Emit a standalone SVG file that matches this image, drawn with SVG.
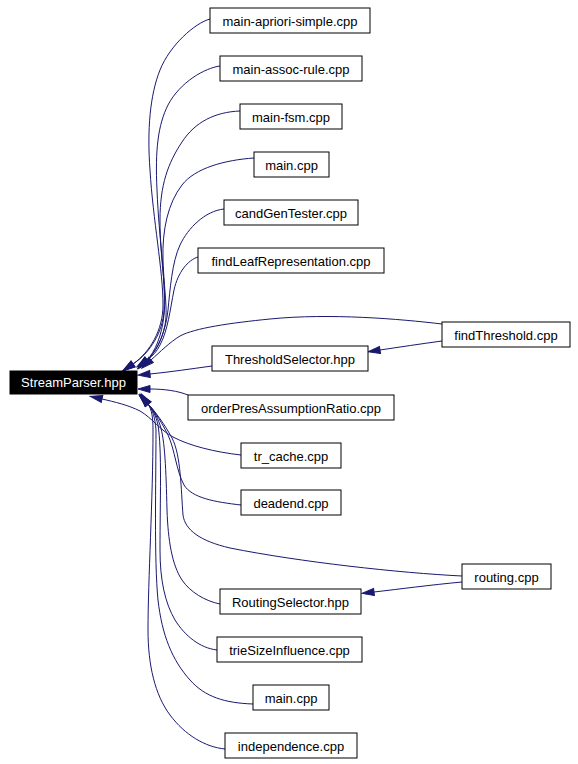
<svg xmlns="http://www.w3.org/2000/svg" width="578" height="764" viewBox="0 0 578 764">
<style>
.n rect{fill:#fff;stroke:#000;stroke-width:1}
.n text{font-family:"Liberation Sans",Arial,sans-serif;font-size:13px;fill:#000;text-anchor:middle}
#root rect{fill:#000;stroke:#000}
#root text{fill:#fff}
.e path{fill:none;stroke:#191970;stroke-width:1;marker-end:url(#ah)}
</style>
<defs>
<marker id="ah" markerUnits="userSpaceOnUse" markerWidth="13" markerHeight="8" refX="0" refY="4" orient="auto" overflow="visible">
<path d="M0,0.5 L12,4 L0,7.5 z" fill="#191970" stroke="#191970" stroke-width="1"/>
</marker>
</defs>
<rect width="578" height="764" fill="#fff"/>
<g class="e" id="edges">
<path d="M210,19 C195,23 170,45 160,70 C150,95 147,130 150,170 C153,220 163,270 163,305 C163,330 150,352 133,364"/>
<path d="M220,66 C205,68 180,82 168,105 C158,125 155,150 157,190 C159,240 166,280 164,310 C163,332 150,353 133,364"/>
<path d="M240,111 C215,112 195,122 182,142 C168,163 160,185 160,220 C160,260 167,290 164,315 C162,335 155,352 147,360"/>
<path d="M254,158 C225,160 195,168 182,185 C168,203 162,230 163,260 C164,290 168,310 165,325 C162,340 156,352 147,360"/>
<path d="M224,209 C205,211 188,228 180,245 C172,262 170,290 168,310 C166,330 158,350 147,360"/>
<path d="M198,257 C188,260 178,272 174,290 C170,310 168,330 160,345 C157,351 153,356 147,360"/>
<path d="M442,324 C400,319 330,313 270,319 C230,323 195,328 180,336 C170,342 160,352 151,360"/>
<path d="M442,341 C420,344 400,347 380,350"/>
<path d="M212,366 C190,369 170,372 150,374"/>
<path d="M188,395 C178,391 165,389 150,389"/>
<path d="M241,455 C215,452 190,446 173,437 C160,430 152,418 140,411 C128,405 115,402 102,399"/>
<path d="M241,505 C215,502 192,498 184,485 C176,470 175,450 168,435 C163,425 155,411 148,404"/>
<path d="M462,576 C400,573 300,562 230,548 C200,541 185,530 183,515 C181,490 181,455 172,438 C165,425 155,411 148,404"/>
<path d="M462,582 C430,585 400,589 374,592"/>
<path d="M220,604 C205,601 190,592 182,580 C172,565 168,540 167,510 C166,470 165,440 160,425 C157,416 153,410 148,404"/>
<path d="M217,650 C200,648 185,636 175,620 C165,603 160,580 160,550 C160,500 162,450 158,425 C156,416 153,410 148,404"/>
<path d="M253,704 C225,703 205,697 190,680 C172,660 162,635 158,600 C154,560 156,480 156,430 C155,418 153,410 148,404"/>
<path d="M225,749 C205,747 185,735 170,715 C155,695 148,665 148,630 C148,580 153,500 153,430 C153,418 152,410 148,404"/>
</g>
<g class="n" id="root"><rect x="10" y="371" width="127" height="23"/><text x="73.5" y="387">StreamParser.hpp</text></g>
<g class="n" id="n1"><rect x="210" y="8" width="160" height="25"/><text x="290" y="25.5">main-apriori-simple.cpp</text></g>
<g class="n" id="n2"><rect x="220" y="56" width="142" height="25"/><text x="291" y="73.5">main-assoc-rule.cpp</text></g>
<g class="n" id="n3"><rect x="240" y="104" width="102" height="25"/><text x="291" y="121.5">main-fsm.cpp</text></g>
<g class="n" id="n4"><rect x="254" y="152" width="75" height="25"/><text x="291.5" y="169.5">main.cpp</text></g>
<g class="n" id="n5"><rect x="224" y="200" width="134" height="25"/><text x="291" y="217.5">candGenTester.cpp</text></g>
<g class="n" id="n6"><rect x="198" y="248" width="186" height="25"/><text x="291" y="265.5">findLeafRepresentation.cpp</text></g>
<g class="n" id="n7"><rect x="442" y="322" width="128" height="25"/><text x="506" y="339.5">findThreshold.cpp</text></g>
<g class="n" id="n8"><rect x="212" y="346" width="156" height="25"/><text x="290" y="363.5">ThresholdSelector.hpp</text></g>
<g class="n" id="n9"><rect x="188" y="395" width="206" height="25"/><text x="291" y="412.5">orderPresAssumptionRatio.cpp</text></g>
<g class="n" id="n10"><rect x="241" y="443" width="100" height="25"/><text x="291" y="460.5">tr_cache.cpp</text></g>
<g class="n" id="n11"><rect x="241" y="490" width="100" height="25"/><text x="291" y="507.5">deadend.cpp</text></g>
<g class="n" id="n12"><rect x="462" y="564" width="89" height="25"/><text x="506.5" y="581.5">routing.cpp</text></g>
<g class="n" id="n13"><rect x="220" y="589" width="141" height="25"/><text x="290.5" y="606.5">RoutingSelector.hpp</text></g>
<g class="n" id="n14"><rect x="217" y="637" width="145" height="25"/><text x="289.5" y="654.5">trieSizeInfluence.cpp</text></g>
<g class="n" id="n15"><rect x="253" y="685" width="76" height="25"/><text x="291" y="702.5">main.cpp</text></g>
<g class="n" id="n16"><rect x="225" y="733" width="132" height="25"/><text x="291" y="750.5">independence.cpp</text></g>
</svg>
